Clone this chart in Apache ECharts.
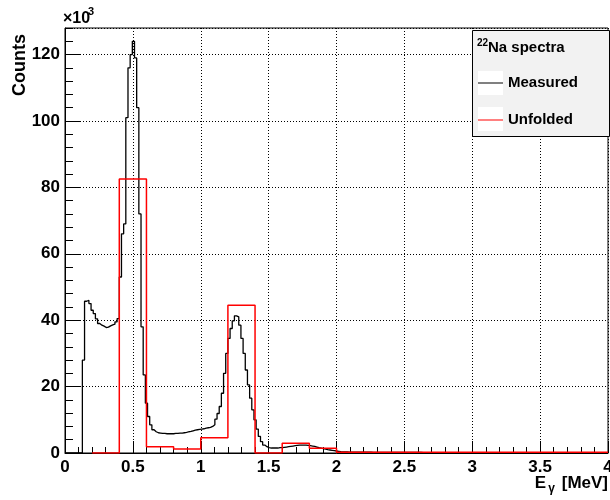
<!DOCTYPE html>
<html lang="en">
<head>
<meta charset="utf-8">
<title>22Na spectra</title>
<script src="https://cdn.jsdelivr.net/npm/echarts@6.0.0/dist/echarts.min.js"></script>
<style>
    html, body { margin: 0; padding: 0; background: #fff; }
    #chart { width: 610px; height: 500px; }
</style>
</head>
<body>
<div id="chart"></div>
<script>
// measured spectrum, 250 bins of 0.016 MeV, counts in units of 10^3
var binWidth = 0.016;
var measured = [
    0, 0, 0, 0, 0, 0, 0, 0,
    28, 45.7, 46, 45, 43, 42, 40.4, 39, 38.5, 38.2, 37.8, 37.9, 38.3, 38.6, 38.8, 39.5, 40.5,
    53, 66, 69, 101, 116, 120, 124, 119, 104, 72, 38, 23.5, 15, 11, 8.5, 7, 6.4, 6.1,
    6.0, 5.9, 5.9, 5.8, 5.8, 5.8, 5.8, 5.9, 5.9, 6.0, 6.0, 6.1, 6.2, 6.4, 6.5, 6.7, 6.9, 7.0, 7.1, 7.2, 7.3, 7.5, 7.6,
    7.7, 8.0, 8.5, 10.2, 11.9, 14, 18, 24, 30, 34.5, 37.5, 39.8, 41.3, 41, 38.5, 34.5, 30, 25, 20.5, 16.5, 13, 10, 7.2, 5, 3.4, 2.4, 1.9, 1.6, 1.5,
    1.5, 1.5, 1.5, 1.6, 1.6, 1.7, 1.8, 1.9, 2.0, 2.1, 2.2, 2.3, 2.4, 2.4, 2.4, 2.4, 2.3, 2.2, 2.1, 2.0, 1.8, 1.6, 1.5, 1.3, 1.2, 1.0,
    0.9, 0.8, 0.7, 0.6, 0.5, 0.4, 0.35, 0.3, 0.3, 0.25,
    0.25, 0.25, 0.25, 0.24, 0.24, 0.23, 0.23, 0.22, 0.22, 0.22,
    0.21, 0.21, 0.2, 0.2, 0.2, 0.2, 0.19, 0.19, 0.19, 0.18,
    0.18, 0.18, 0.17, 0.17, 0.17, 0.16, 0.16, 0.16, 0.16, 0.15,
    0.15, 0.15, 0.15, 0.14, 0.14, 0.14, 0.14, 0.13, 0.13, 0.13,
    0.13, 0.12, 0.12, 0.12, 0.12, 0.12, 0.11, 0.11, 0.11, 0.11,
    0.11, 0.1, 0.1, 0.1, 0.1, 0.1, 0.1, 0.1, 0.09, 0.09,
    0.09, 0.09, 0.09, 0.09, 0.09, 0.08, 0.08, 0.08, 0.08, 0.08,
    0.08, 0.08, 0.08, 0.07, 0.07, 0.07, 0.07, 0.07, 0.07, 0.07,
    0.07, 0.07, 0.06, 0.06, 0.06, 0.06, 0.06, 0.06, 0.06, 0.06,
    0.06, 0.06, 0.05, 0.05, 0.05, 0.05, 0.05, 0.05, 0.05, 0.05,
    0.05, 0.05, 0.05, 0.05, 0.05, 0.04, 0.04, 0.04, 0.04, 0.04,
    0.04, 0.04, 0.04, 0.04, 0.04, 0.04, 0.04, 0.04, 0.04
];
// unfolded spectrum, 0.2 MeV bins
var unfoldedEdges = [0.2, 0.4, 0.6, 0.8, 1.0, 1.2, 1.4, 1.6, 1.8, 2.0, 2.2, 2.4, 2.6, 2.8, 3.0, 3.2, 3.4, 3.6, 3.8, 4.0];
var unfolded = [0, 82.5, 1.9, 1.2, 4.6, 44.5, 0, 2.9, 1.4, 0.2, 0.2, 0.2, 0.2, 0.2, 0.2, 0.2, 0.2, 0.2, 0.2];

var FONT = 'Liberation Sans, Arial, Helvetica, sans-serif';

var measuredEdges = [];
for (var i = 0; i <= measured.length; i++) {
    measuredEdges.push(i * binWidth);
}

// histogram outline: start on the axis, then one point per bin edge
function stepPoints(edges, values) {
    var pts = [[edges[0], 0]];
    for (var i = 0; i < values.length; i++) {
        pts.push([edges[i], values[i]]);
    }
    pts.push([edges[edges.length - 1], values[values.length - 1]]);
    return pts;
}

var myChart = echarts.init(document.getElementById('chart'), null, { renderer: 'canvas' });

var labelStyle = { color: '#000', fontFamily: FONT, fontWeight: 'bold', fontSize: 17 };
var gridDots = { show: true, lineStyle: { color: '#000', type: [1, 2], width: 1 } };

var option = {
    animation: false,
    backgroundColor: '#fff',
    grid: {
        left: 65, right: 2, top: 28, bottom: 47,
        show: true, borderColor: '#000', borderWidth: 1,
        outerBoundsMode: 'none'
    },
    xAxis: {
        type: 'value', min: 0, max: 4, interval: 0.5,
        axisLine: { show: true, lineStyle: { color: '#000', width: 1 } },
        axisTick: { show: true, inside: true, length: 12, lineStyle: { color: '#000' } },
        minorTick: { show: true, splitNumber: 5, length: 6, lineStyle: { color: '#000' } },
        splitLine: gridDots,
        axisLabel: Object.assign({ margin: 6 }, labelStyle)
    },
    yAxis: [
        {
            type: 'value', position: 'left', min: 0, max: 128, interval: 20,
            axisLine: { show: true, lineStyle: { color: '#000', width: 1 } },
            axisTick: { show: true, inside: true, length: 16, lineStyle: { color: '#000' } },
            splitLine: gridDots,
            axisLabel: Object.assign({ margin: 5, showMaxLabel: false }, labelStyle)
        },
        {
            // minor ticks every 4 x10^3
            type: 'value', position: 'left', min: 0, max: 128, interval: 4,
            axisLine: { show: false },
            axisTick: { show: true, inside: true, length: 8, lineStyle: { color: '#000' } },
            splitLine: { show: false },
            axisLabel: { show: false }
        }
    ],
    legend: {
        data: ['Measured', 'Unfolded'],
        orient: 'vertical',
        left: 478, top: 75.5, padding: 0,
        itemWidth: 25, itemHeight: 14, itemGap: 22,
        icon: 'path://M0,0H25V1H0Z',
        itemStyle: { borderWidth: 0 },
        textStyle: { color: '#000', fontFamily: FONT, fontWeight: 'bold', fontSize: 15 },
        selectedMode: false,
        z: 8
    },
    graphic: [
        { type: 'rect', z: 5, shape: { x: 472.5, y: 30.5, width: 137, height: 106 },
          style: { fill: '#f2f2f2', stroke: '#000', lineWidth: 1 } },
        // white entry boxes behind the legend lines
        { type: 'rect', z: 6, shape: { x: 478, y: 71, width: 25, height: 24 }, style: { fill: '#fff' } },
        { type: 'rect', z: 6, shape: { x: 478, y: 107, width: 25, height: 24 }, style: { fill: '#fff' } },
        { type: 'text', z: 7, x: 477, y: 43.5,
          style: { text: '22', fill: '#000', font: 'bold 10px ' + FONT, verticalAlign: 'middle' } },
        { type: 'text', z: 7, x: 488, y: 47.5,
          style: { text: 'Na spectra', fill: '#000', font: 'bold 15px ' + FONT, verticalAlign: 'middle' } },
        { type: 'text', x: 63, y: 19,
          style: { text: '\u00d710', fill: '#000', font: 'bold 16px ' + FONT, verticalAlign: 'middle' } },
        { type: 'text', x: 88, y: 12,
          style: { text: '3', fill: '#000', font: 'bold 11px ' + FONT, verticalAlign: 'middle' } },
        { type: 'text', x: 20, y: 34, rotation: Math.PI / 2,
          style: { text: 'Counts', fill: '#000', font: 'bold 18px ' + FONT, align: 'right', verticalAlign: 'middle' } },
        { type: 'text', x: 608, y: 483,
          style: { text: '[MeV]', fill: '#000', font: 'bold 17px ' + FONT, align: 'right', verticalAlign: 'middle' } },
        { type: 'text', x: 555, y: 489,
          style: { text: '\u03b3', fill: '#000', font: 'bold 12px ' + FONT, align: 'right', verticalAlign: 'middle' } },
        { type: 'text', x: 546, y: 483,
          style: { text: 'E', fill: '#000', font: 'bold 17px ' + FONT, align: 'right', verticalAlign: 'middle' } }
    ],
    series: [
        {
            name: 'Measured', type: 'line', step: 'end',
            data: stepPoints(measuredEdges, measured),
            symbol: 'none', color: '#000',
            lineStyle: { color: '#000', width: 1.3 },
            emphasis: { disabled: true }
        },
        {
            name: 'Unfolded', type: 'line', step: 'end',
            data: stepPoints(unfoldedEdges, unfolded),
            symbol: 'none', color: '#ff0000',
            lineStyle: { color: '#ff0000', width: 1.5 },
            emphasis: { disabled: true }
        }
    ]
};
myChart.setOption(option);
</script>
</body>
</html>
